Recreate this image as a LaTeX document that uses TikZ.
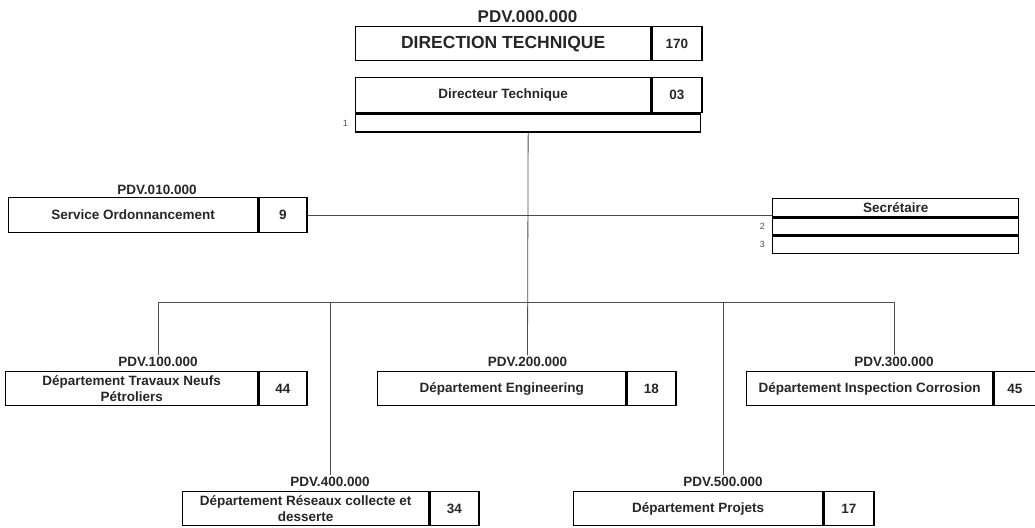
\documentclass[tikz,border=0pt]{standalone}
\usepackage{fontspec}
\setmainfont{Liberation Sans}
\usetikzlibrary{positioning}

\begin{document}
\begin{tikzpicture}[x=1pt,y=-1pt,
  cell/.style={draw,line width=1.3pt,anchor=north west,inner sep=0pt,align=center,
    font=\bfseries\fontsize{13.5}{16}\selectfont,text=black!85},
  pdv/.style={anchor=base,inner sep=1pt,font=\bfseries\fontsize{13.5}{16}\selectfont,text=black!85},
  idx/.style={left=7pt,inner sep=0pt,font=\fontsize{9}{10}\selectfont,text=black!70},
  lnk/.style={draw=black!70,line width=0.8pt}]
\useasboundingbox (0,0) rectangle (1035,527);

% direction
\node[pdv,font=\bfseries\fontsize{17}{20}\selectfont] (p000) at (527.5,23) {PDV.000.000};
\node[cell,minimum width=295,minimum height=34,font=\bfseries\fontsize{17.5}{20}\selectfont] (dt) at (355,26) {DIRECTION TECHNIQUE};
\node[cell,minimum width=50,minimum height=34] (dtn) at (dt.north east) {170};

\node[cell,minimum width=295,minimum height=35] (dir) at (355,77) {Directeur Technique};
\node[cell,minimum width=50,minimum height=35] (dirn) at (dir.north east) {03};
\node[cell,minimum width=345,minimum height=18] (dirlow) at (dir.south west) {};
\node[idx] at (dirlow.west) {1};

% service and secretary
\node[pdv] (p010) at (157,194) {PDV.010.000};
\node[cell,minimum width=249,minimum height=35] (ordo) at (8,197) {Service Ordonnancement};
\node[cell,minimum width=48,minimum height=35] (ordon) at (ordo.north east) {9};

\node[cell,minimum width=246,minimum height=18] (sec) at (772,198) {Secrétaire};
\node[cell,minimum width=246,minimum height=17] (sec2) at (sec.south west) {};
\node[cell,minimum width=246,minimum height=17] (sec3) at (sec2.south west) {};
\node[idx] at (sec2.west) {2};
\node[idx] at (sec3.west) {3};

% departments
\node[pdv] (p100) at (158,366) {PDV.100.000};
\node[cell,minimum width=252,minimum height=34] (d100) at (5,371) {Département Travaux Neufs\\Pétroliers};
\node[cell,minimum width=48,minimum height=34] (d100n) at (d100.north east) {44};

\node[pdv] (p200) at (527.5,366) {PDV.200.000};
\node[cell,minimum width=248,minimum height=34] (d200) at (377,371) {Département Engineering};
\node[cell,minimum width=49,minimum height=34] (d200n) at (d200.north east) {18};

\node[pdv] (p300) at (894,366) {PDV.300.000};
\node[cell,minimum width=246,minimum height=34] (d300) at (746,371) {Département Inspection Corrosion};
\node[cell,minimum width=42,minimum height=34] (d300n) at (d300.north east) {45};

\node[pdv] (p400) at (330,486) {PDV.400.000};
\node[cell,minimum width=246,minimum height=34] (d400) at (182,491) {Département Réseaux collecte et\\desserte};
\node[cell,minimum width=49,minimum height=34] (d400n) at (d400.north east) {34};

\node[pdv] (p500) at (723,486) {PDV.500.000};
\node[cell,minimum width=249,minimum height=34] (d500) at (573,491) {Département Projets};
\node[cell,minimum width=50,minimum height=34] (d500n) at (d500.north east) {17};

% links
\coordinate (bus) at (527.5,302);
\draw[lnk] (dirlow.south) -- (p200.north);
\draw[lnk] (ordon.east) -- (ordon.east -| sec.west);
\draw[lnk] (p100.north) -- (p100.north |- bus) -- (p300.north |- bus) -- (p300.north);
\draw[lnk] (p400.north |- bus) -- (p400.north);
\draw[lnk] (p500.north |- bus) -- (p500.north);
\end{tikzpicture}
\end{document}
